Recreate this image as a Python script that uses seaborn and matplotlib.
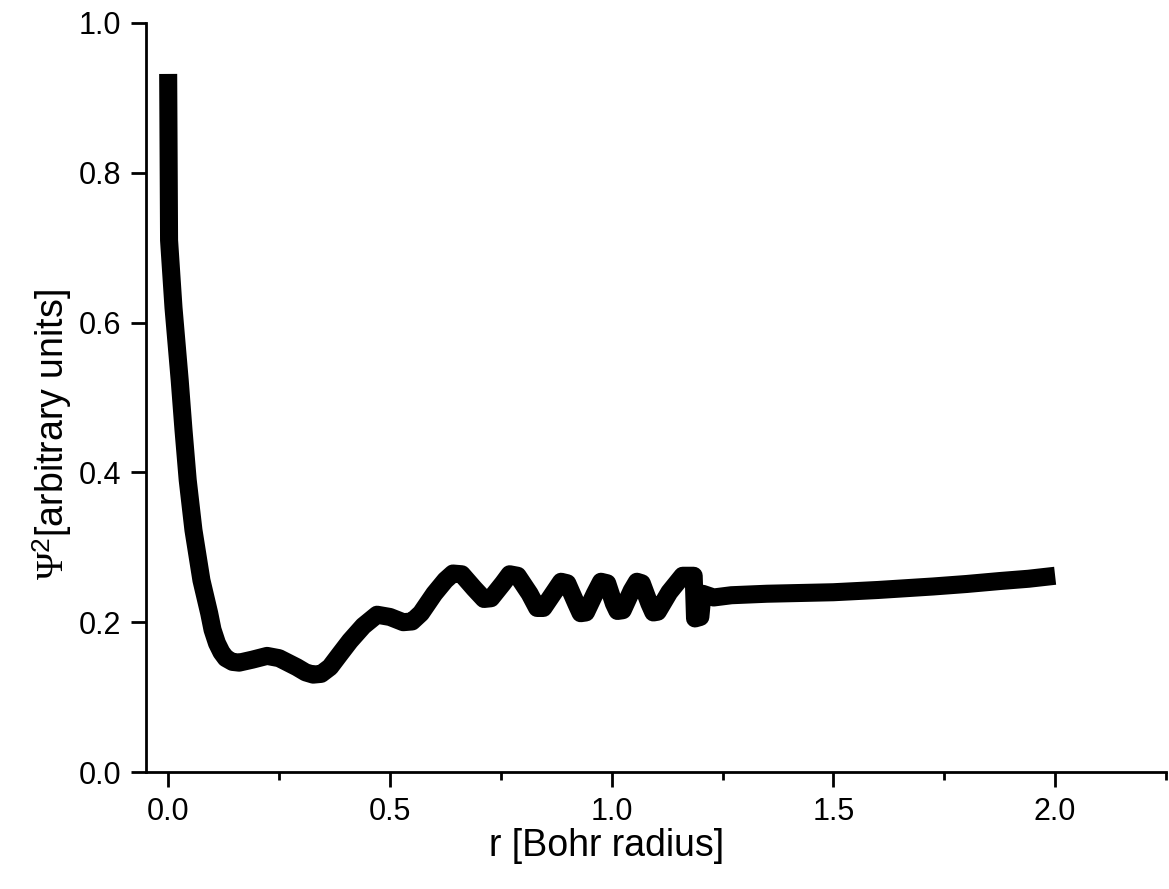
import matplotlib
matplotlib.use("Agg")
import matplotlib.pyplot as plt
import seaborn as sns
import pandas as pd
from matplotlib.ticker import MultipleLocator

r_values = [0.0, 0.002, 0.012, 0.026, 0.0345, 0.044, 0.057, 0.075, 0.0925, 0.10,
            0.11, 0.12, 0.13, 0.145, 0.16, 0.19, 0.223, 0.25, 0.29, 0.31,
            0.327, 0.345, 0.365, 0.388, 0.41, 0.44, 0.471, 0.50, 0.53, 0.55,
            0.57, 0.60, 0.625, 0.642, 0.662, 0.69, 0.712, 0.728, 0.755, 0.77,
            0.788, 0.815, 0.832, 0.846, 0.87, 0.886, 0.9, 0.92, 0.93, 0.942,
            0.962, 0.976, 0.99, 1.005, 1.013, 1.025, 1.045, 1.057, 1.068, 1.085,
            1.094, 1.104, 1.13, 1.16, 1.185, 1.188, 1.2, 1.205, 1.23, 1.27,
            1.35, 1.5, 1.6, 1.725, 1.8, 1.876, 1.94, 2.0]
psi2_values = [0.932, 0.71, 0.62, 0.523, 0.457, 0.390, 0.323, 0.256, 0.212, 0.19,
               0.172, 0.160, 0.152, 0.147, 0.146, 0.150, 0.155, 0.152, 0.140, 0.133,
               0.130, 0.131, 0.140, 0.158, 0.175, 0.195, 0.210, 0.207, 0.200, 0.201,
               0.212, 0.238, 0.256, 0.265, 0.264, 0.245, 0.231, 0.232, 0.252, 0.264,
               0.262, 0.238, 0.219, 0.219, 0.240, 0.254, 0.252, 0.225, 0.212, 0.213,
               0.238, 0.254, 0.252, 0.225, 0.215, 0.216, 0.242, 0.254, 0.252, 0.225,
               0.213, 0.214, 0.240, 0.262, 0.262, 0.205, 0.207, 0.238, 0.233, 0.236,
               0.238, 0.240, 0.243, 0.2477, 0.251, 0.255, 0.258, 0.262]

x_ticks = [0.0, 0.5, 1.0, 1.5, 2.0]
x_tick_labels = ["0.0", "0.5", "1.0", "1.5", "2.0"]
y_ticks = [0.0, 0.2, 0.4, 0.6, 0.8, 1.0]
y_tick_labels = ["0.0", "0.2", "0.4", "0.6", "0.8", "1.0"]

sns.set_theme(style="ticks")
plt.rcParams['font.family'] = ['Liberation Sans', 'DejaVu Sans']
plt.rcParams['mathtext.fontset'] = 'custom'
plt.rcParams['mathtext.rm'] = 'Liberation Serif'
plt.rcParams['mathtext.it'] = 'Liberation Serif:italic'
plt.rcParams['mathtext.sf'] = 'Liberation Sans'
plt.rcParams['text.color'] = 'black'
plt.rcParams['axes.labelcolor'] = 'black'

df = pd.DataFrame({"r": r_values, "psi2": psi2_values})

fig = plt.figure(figsize=(11.69, 8.89), dpi=100)
ax = fig.add_axes([146/1169, 1 - 772/889, 1020/1169, 749/889])

sns.lineplot(data=df, x="r", y="psi2", ax=ax, color="black", linewidth=13,
             estimator=None, sort=False, solid_capstyle="butt", solid_joinstyle="round")

ax.set_xlim(-0.05, 2.25)
ax.set_ylim(0.0, 1.0)
ax.set_xticks(x_ticks)
ax.set_xticklabels(x_tick_labels)
ax.set_yticks(y_ticks)
ax.set_yticklabels(y_tick_labels)
ax.xaxis.set_minor_locator(MultipleLocator(0.25))

for side in ["top", "right"]:
    ax.spines[side].set_visible(False)
for side in ["left", "bottom"]:
    ax.spines[side].set_linewidth(2.0)
    ax.spines[side].set_color("black")

ax.tick_params(axis="both", which="major", direction="out", length=11, width=2.0,
               labelsize=22, pad=7, colors="black", labelcolor="black")
ax.tick_params(axis="x", which="minor", direction="out", length=5.5, width=2.0, colors="black")

ax.set_xlabel("r [Bohr radius]", fontsize=27, color="black")
ax.set_ylabel(r"$\Psi^{\mathsf{2}}$[arbitrary units]", fontsize=27, color="black")
ax.xaxis.set_label_coords((607 - 146) / 1020, -0.075)
ax.yaxis.set_label_coords(-0.071, 0.45)

fig.savefig("out.png", dpi=100)
